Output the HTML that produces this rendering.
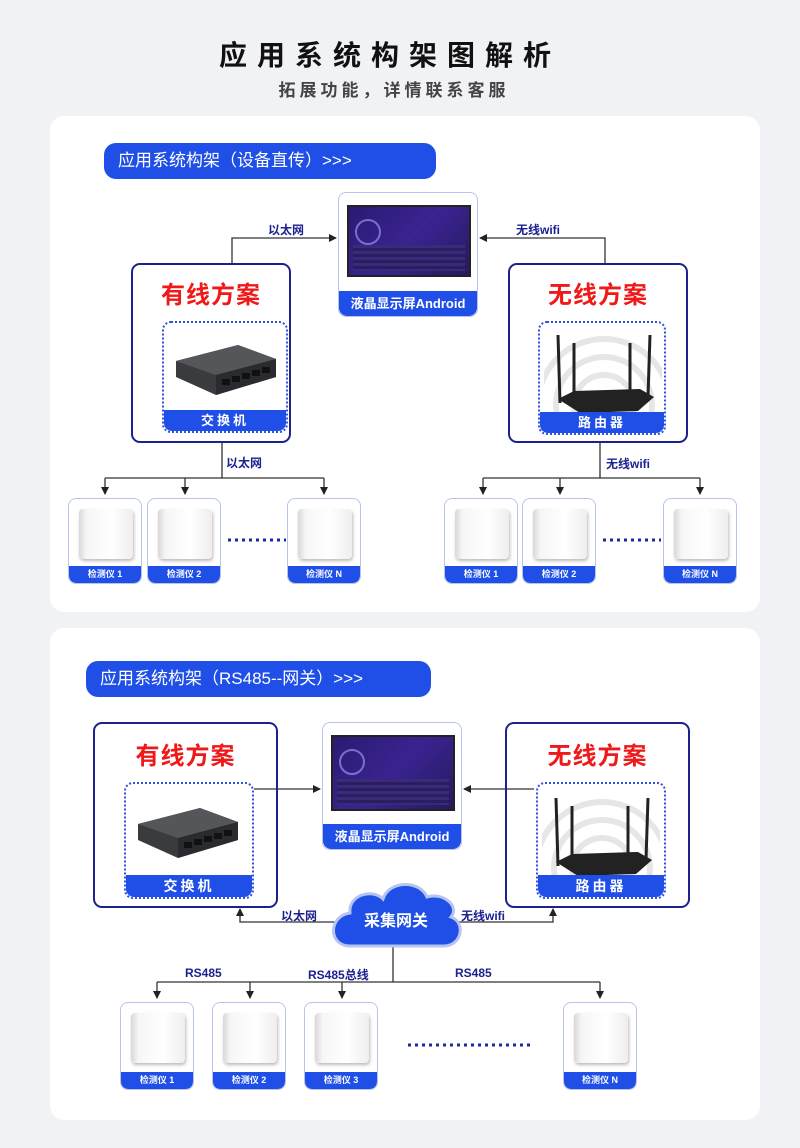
<!DOCTYPE html>
<html><head><meta charset="utf-8">
<style>
*{margin:0;padding:0;box-sizing:border-box}
body{width:800px;height:1148px;background:#f1f2f6;position:relative;overflow:hidden;font-family:"Liberation Sans","Noto Sans CJK SC",sans-serif}
.a{position:absolute}
.panel{position:absolute;left:50px;width:710px;background:#fff;border-radius:14px}
.pill{position:absolute;background:#1f4fe6;color:#fff;border-radius:12px;font-size:17px;line-height:36px;padding-left:14px;height:36px}
.box{position:absolute;border:2px solid #1c2190;border-radius:9px;background:#fff}
.ttl{position:absolute;left:0;right:0;text-align:center;color:#f01818;font-weight:bold;font-size:24px;letter-spacing:1px}
.dot{position:absolute;border:2px dotted #3050e0;border-radius:9px;overflow:hidden;background:#fff}
.band{position:absolute;left:0;right:0;bottom:0;background:#1f4fe6;color:#fff;text-align:center;font-weight:bold;border-radius:0 0 8px 8px}
.disp{position:absolute;border:1.5px solid #b8c4f0;border-radius:8px;background:#fff;overflow:hidden}
.scr{position:absolute;background:linear-gradient(135deg,#2a1b72,#3b2390 50%,#251a60);border:2px solid #222}
.scr i{position:absolute;left:6px;top:12px;width:26px;height:26px;border-radius:50%;border:2px solid #7a6fd0}
.scr b{position:absolute;left:4px;right:4px;bottom:4px;height:26px;background:repeating-linear-gradient(#3a2a7a 0 3px,#2a1d60 3px 6px)}
.dev{position:absolute;width:74px;height:86px;border:1.5px solid #b8c4f0;border-radius:8px;background:#fff;overflow:hidden}
.dev .img{position:absolute;left:10px;top:10px;width:54px;height:50px;background:linear-gradient(90deg,#d8d8d8,#f6f6f6 14%,#fff 60%,#eee);border-radius:4px;box-shadow:1px 2px 3px #bbb}
.dev .band{height:17px;font-size:9px;line-height:17px;border-radius:0 0 7px 7px}
.lbl{position:absolute;color:#1c2190;font-weight:bold;font-size:12px}
</style></head><body>
<div class="a" style="left:-10px;top:34px;width:800px;text-align:center;font-size:28px;font-weight:bold;letter-spacing:10px;color:#111">应用系统构架图解析</div>
<div class="a" style="left:-6px;top:76px;width:800px;text-align:center;font-size:17px;font-weight:bold;letter-spacing:4px;color:#444">拓展功能，详情联系客服</div>

<div class="panel" style="top:116px;height:496px"></div>
<div class="panel" style="top:628px;height:492px"></div>

<!-- Panel 1 -->
<div class="pill" style="left:104px;top:143px;width:332px">应用系统构架（设备直传）&gt;&gt;&gt;</div>

<div class="disp" style="left:338px;top:192px;width:140px;height:125px">
 <div class="scr" style="left:8px;top:12px;width:124px;height:72px"><i></i><b></b></div>
 <div class="band" style="height:25px;font-size:13px;line-height:25px">液晶显示屏Android</div>
</div>

<div class="box" style="left:131px;top:263px;width:160px;height:180px">
 <div class="ttl" style="top:10px">有线方案</div>
 <div class="dot" style="left:29px;top:56px;width:126px;height:112px">
  <svg class="a" style="left:8px;top:10px" width="108" height="70" viewBox="0 0 108 70"><polygon points="4,28 66,12 104,26 104,44 44,62 4,44" fill="#3a3b3e"/><polygon points="4,28 66,12 104,26 44,42" fill="#55565a"/><polygon points="44,42 104,26 104,44 44,62" fill="#2a2b2e"/><g fill="#111"><rect x="50" y="46" width="8" height="6"/><rect x="60" y="43" width="8" height="6"/><rect x="70" y="40" width="8" height="6"/><rect x="80" y="37" width="8" height="6"/><rect x="90" y="34" width="8" height="6"/></g></svg>
  <div class="band" style="height:21px;font-size:13px;line-height:21px;letter-spacing:3px">交换机</div>
 </div>
</div>

<div class="box" style="left:508px;top:263px;width:180px;height:180px">
 <div class="ttl" style="top:10px">无线方案</div>
 <div class="dot" style="left:28px;top:56px;width:128px;height:114px">
  <svg class="a" style="left:4px;top:2px" width="118" height="90" viewBox="0 0 118 90"><g fill="none" stroke="#e6e6e6" stroke-width="6"><circle cx="60" cy="80" r="30"/><circle cx="60" cy="80" r="48"/><circle cx="60" cy="80" r="66"/></g><g stroke="#222" stroke-width="3"><line x1="14" y1="10" x2="16" y2="78"/><line x1="30" y1="18" x2="30" y2="70"/><line x1="86" y1="18" x2="86" y2="70"/><line x1="106" y1="10" x2="104" y2="72"/></g><polygon points="14,74 30,66 96,64 110,72 94,86 36,88" fill="#222"/></svg>
  <div class="band" style="height:21px;font-size:13px;line-height:21px;letter-spacing:3px">路由器</div>
 </div>
</div>

<div class="lbl" style="left:268px;top:221px">以太网</div>
<div class="lbl" style="left:516px;top:221px">无线wifi</div>
<div class="lbl" style="left:226px;top:454px">以太网</div>
<div class="lbl" style="left:606px;top:455px">无线wifi</div>

<div class="dev" style="left:68px;top:498px"><div class="img"></div><div class="band">检测仪 1</div></div>
<div class="dev" style="left:147px;top:498px"><div class="img"></div><div class="band">检测仪 2</div></div>
<div class="dev" style="left:287px;top:498px"><div class="img"></div><div class="band">检测仪 N</div></div>
<div class="dev" style="left:444px;top:498px"><div class="img"></div><div class="band">检测仪 1</div></div>
<div class="dev" style="left:522px;top:498px"><div class="img"></div><div class="band">检测仪 2</div></div>
<div class="dev" style="left:663px;top:498px"><div class="img"></div><div class="band">检测仪 N</div></div>

<!-- Panel 2 -->
<div class="pill" style="left:86px;top:661px;width:345px">应用系统构架（RS485--网关）&gt;&gt;&gt;</div>

<div class="box" style="left:93px;top:722px;width:185px;height:186px">
 <div class="ttl" style="top:12px">有线方案</div>
 <div class="dot" style="left:29px;top:58px;width:130px;height:117px">
  <svg class="a" style="left:8px;top:12px" width="108" height="70" viewBox="0 0 108 70"><polygon points="4,28 66,12 104,26 104,44 44,62 4,44" fill="#3a3b3e"/><polygon points="4,28 66,12 104,26 44,42" fill="#55565a"/><polygon points="44,42 104,26 104,44 44,62" fill="#2a2b2e"/><g fill="#111"><rect x="50" y="46" width="8" height="6"/><rect x="60" y="43" width="8" height="6"/><rect x="70" y="40" width="8" height="6"/><rect x="80" y="37" width="8" height="6"/><rect x="90" y="34" width="8" height="6"/></g></svg>
  <div class="band" style="height:22px;font-size:14px;line-height:22px;letter-spacing:3px">交换机</div>
 </div>
</div>

<div class="disp" style="left:322px;top:722px;width:140px;height:128px">
 <div class="scr" style="left:8px;top:12px;width:124px;height:76px"><i></i><b></b></div>
 <div class="band" style="height:25px;font-size:13px;line-height:25px">液晶显示屏Android</div>
</div>

<div class="box" style="left:505px;top:722px;width:185px;height:186px">
 <div class="ttl" style="top:12px">无线方案</div>
 <div class="dot" style="left:29px;top:58px;width:130px;height:117px">
  <svg class="a" style="left:4px;top:4px" width="118" height="90" viewBox="0 0 118 90"><g fill="none" stroke="#e6e6e6" stroke-width="6"><circle cx="60" cy="80" r="30"/><circle cx="60" cy="80" r="48"/><circle cx="60" cy="80" r="66"/></g><g stroke="#222" stroke-width="3"><line x1="14" y1="10" x2="16" y2="78"/><line x1="30" y1="18" x2="30" y2="70"/><line x1="86" y1="18" x2="86" y2="70"/><line x1="106" y1="10" x2="104" y2="72"/></g><polygon points="14,74 30,66 96,64 110,72 94,86 36,88" fill="#222"/></svg>
  <div class="band" style="height:22px;font-size:14px;line-height:22px;letter-spacing:3px">路由器</div>
 </div>
</div>

<div class="lbl" style="left:281px;top:907px">以太网</div>
<div class="lbl" style="left:461px;top:907px">无线wifi</div>
<div class="lbl" style="left:185px;top:966px">RS485</div>
<div class="lbl" style="left:308px;top:966px">RS485总线</div>
<div class="lbl" style="left:455px;top:966px">RS485</div>

<div class="dev" style="left:120px;top:1002px;height:88px"><div class="img"></div><div class="band">检测仪 1</div></div>
<div class="dev" style="left:212px;top:1002px;height:88px"><div class="img"></div><div class="band">检测仪 2</div></div>
<div class="dev" style="left:304px;top:1002px;height:88px"><div class="img"></div><div class="band">检测仪 3</div></div>
<div class="dev" style="left:563px;top:1002px;height:88px"><div class="img"></div><div class="band">检测仪 N</div></div>

<svg class="a" style="left:0;top:0" width="800" height="1148">
<defs><marker id="m" markerWidth="8" markerHeight="8" refX="7" refY="4" orient="auto" markerUnits="userSpaceOnUse"><path d="M0,0 L8,4 L0,8z" fill="#222"/></marker></defs>
<g fill="none" stroke="#333" stroke-width="1.3">
<polyline points="232,263 232,238 336,238" marker-end="url(#m)"/>
<polyline points="605,263 605,238 480,238" marker-end="url(#m)"/>
<line x1="222" y1="443" x2="222" y2="478"/><line x1="105" y1="478" x2="324" y2="478"/>
<line x1="105" y1="478" x2="105" y2="494" marker-end="url(#m)"/><line x1="185" y1="478" x2="185" y2="494" marker-end="url(#m)"/><line x1="324" y1="478" x2="324" y2="494" marker-end="url(#m)"/>
<line x1="600" y1="443" x2="600" y2="478"/><line x1="483" y1="478" x2="700" y2="478"/>
<line x1="483" y1="478" x2="483" y2="494" marker-end="url(#m)"/><line x1="560" y1="478" x2="560" y2="494" marker-end="url(#m)"/><line x1="700" y1="478" x2="700" y2="494" marker-end="url(#m)"/>
<line x1="254" y1="789" x2="320" y2="789" marker-end="url(#m)"/>
<line x1="534" y1="789" x2="464" y2="789" marker-end="url(#m)"/>
<polyline points="340,922 240,922 240,909" marker-end="url(#m)"/>
<polyline points="455,922 553,922 553,909" marker-end="url(#m)"/>
<line x1="393" y1="945" x2="393" y2="982"/><line x1="157" y1="982" x2="600" y2="982"/>
<line x1="157" y1="982" x2="157" y2="998" marker-end="url(#m)"/><line x1="250" y1="982" x2="250" y2="998" marker-end="url(#m)"/><line x1="342" y1="982" x2="342" y2="998" marker-end="url(#m)"/><line x1="600" y1="982" x2="600" y2="998" marker-end="url(#m)"/>
</g>
<g stroke="#1c2aa0" stroke-width="3" stroke-dasharray="3,4"><line x1="228" y1="540" x2="286" y2="540"/><line x1="603" y1="540" x2="661" y2="540"/><line x1="408" y1="1045" x2="533" y2="1045"/></g>
<path d="M350,946 C328,946 328,916 350,913 C348,895 372,888 383,899 C389,880 420,880 427,897 C443,892 460,906 451,917 C466,922 462,946 444,946 Z" fill="#1f4fe6" stroke="#b8c4f0" stroke-width="3"/>
<text x="396" y="926" fill="#fff" font-size="16" font-weight="bold" text-anchor="middle" font-family="Liberation Sans,Noto Sans CJK SC,sans-serif">采集网关</text>
</svg>
</body></html>
